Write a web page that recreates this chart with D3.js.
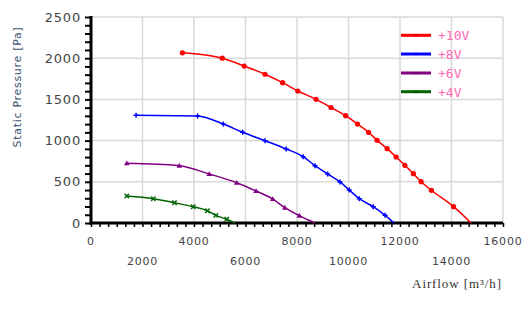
<!DOCTYPE html>
<html><head><meta charset="utf-8">
<script src="https://cdn.jsdelivr.net/npm/d3@7"></script>
<style>
body{margin:0;background:#fff;}
svg{display:block;}
</style></head>
<body>
<svg id="c" width="526" height="312"></svg>
<script>
const seriesNames = ["+10V","+8V","+6V","+4V"];
const seriesColors = ["#ff0000","#0000ff","#800080","#006400"];
const red10 = [[3550,2065],[5100,2000],[5950,1905],[6760,1805],[7440,1703],[8030,1602],[8740,1501],[9320,1402],[9890,1302],[10350,1201],[10780,1101],[11110,1004],[11500,902],[11850,801],[12190,700],[12520,598],[12820,501],[13220,397],[14080,198],[14760,0]];
const blue8 = [[1750,1307],[4140,1300],[5140,1201],[5890,1101],[6760,999],[7580,898],[8240,805],[8700,696],[9190,595],[9670,498],[10030,400],[10420,295],[10960,198],[11420,93],[11770,0]];
const purple6 = [[1390,724],[3430,696],[4590,595],[5660,489],[6410,388],[7060,291],[7530,186],[8090,89],[8700,0]];
const green4 = [[1390,328],[2420,295],[3240,246],[3970,198],[4520,149],[4850,93],[5270,45],[5590,0]];
const seriesData = [red10, blue8, purple6, green4];
const markerTypes = ["circle","plus","triangle","cross"];
const xTicks = [0,2000,4000,6000,8000,10000,12000,14000,16000];
const yTicks = [0,500,1000,1500,2000,2500];
const xTitle = "Airflow [m\u00b3/h]";
const yTitle = "Static Pressure [Pa]";

const svg = d3.select("#c");
const x = d3.scaleLinear().domain([0,16000]).range([91,503]);
const y = d3.scaleLinear().domain([0,2500]).range([223,17]);

// grid
const g = svg.append("g");
g.selectAll(".vg").data(xTicks.slice(1)).join("line")
  .attr("x1",d=>x(d)).attr("x2",d=>x(d)).attr("y1",y(0)).attr("y2",y(2500))
  .attr("stroke","#d9d9d9").attr("stroke-width",1.5);
g.selectAll(".hg").data(yTicks.slice(1)).join("line")
  .attr("x1",x(0)).attr("x2",x(16000)).attr("y1",d=>y(d)).attr("y2",d=>y(d))
  .attr("stroke","#d9d9d9").attr("stroke-width",1.5);

// minor ticks
const yMinor = d3.range(0,2501,100);
const xMinor = d3.range(0,16001,2000/6);
const yAx = svg.append("g").attr("transform",`translate(${x(0)},0)`)
  .call(d3.axisLeft(y).tickValues(yMinor).tickSize(6).tickFormat(""));
yAx.select(".domain").remove();
yAx.selectAll("line").attr("stroke","#000").attr("stroke-width",2);
const xAx = svg.append("g").attr("transform",`translate(0,${y(0)})`)
  .call(d3.axisBottom(x).tickValues(xMinor).tickSize(4).tickFormat(""));
xAx.select(".domain").remove();
xAx.selectAll("line").attr("stroke","#000").attr("stroke-width",1.5);

// axis lines
svg.append("line").attr("x1",x(0)).attr("x2",x(0)).attr("y1",y(2500)-1).attr("y2",y(0)+1.5)
  .attr("stroke","#000").attr("stroke-width",3);
svg.append("line").attr("x1",x(0)-1.5).attr("x2",x(16000)).attr("y1",y(0)).attr("y2",y(0))
  .attr("stroke","#000").attr("stroke-width",3);

// tick labels
svg.selectAll(".yl").data(yTicks).join("text")
  .attr("x",81).attr("y",d=>y(d)+4.5).attr("text-anchor","end")
  .attr("font-family","DejaVu Sans").attr("font-size",13).attr("letter-spacing",0.8)
  .attr("fill","#444").text(d=>d);
svg.selectAll(".xl").data(xTicks).join("text")
  .attr("x",d=>x(d)).attr("y",(d,i)=> i%2===0 ? 245 : 265).attr("text-anchor","middle")
  .attr("font-family","DejaVu Sans").attr("font-size",11).attr("letter-spacing",0.8)
  .attr("fill","#444").text(d=>d);

// titles
svg.append("text").attr("x",457).attr("y",288).attr("text-anchor","middle")
  .attr("font-family","Liberation Serif").attr("font-size",13).attr("letter-spacing",0.9)
  .attr("fill","#333").text(xTitle);
svg.append("text").attr("transform","translate(21,87) rotate(-90)").attr("text-anchor","middle")
  .attr("font-family","DejaVu Sans").attr("font-size",11).attr("letter-spacing",0.7)
  .attr("fill","#3a5070").text(yTitle);

// lines
const line = d3.line().x(d=>x(d[0])).y(d=>y(d[1])).curve(d3.curveMonotoneX);
seriesData.forEach((data,i)=>{
  const c = seriesColors[i];
  svg.append("path").attr("d",line(data)).attr("fill","none").attr("stroke",c).attr("stroke-width",1.5);
  const pts = data.filter(d=>d[1]>0);
  const mg = svg.append("g");
  pts.forEach(d=>{
    const px = x(d[0]), py = y(d[1]);
    const t = markerTypes[i];
    if(t==="circle") mg.append("circle").attr("cx",px).attr("cy",py).attr("r",2.6).attr("fill",c);
    else if(t==="plus") mg.append("path").attr("d",`M${px-2.5},${py}H${px+2.5}M${px},${py-2.5}V${py+2.5}`).attr("stroke",c).attr("stroke-width",1.5);
    else if(t==="triangle") mg.append("path").attr("d",`M${px},${py-2.8}L${px+2.8},${py+2}L${px-2.8},${py+2}Z`).attr("fill",c);
    else mg.append("path").attr("d",`M${px-2.2},${py-2.2}L${px+2.2},${py+2.2}M${px-2.2},${py+2.2}L${px+2.2},${py-2.2}`).attr("stroke",c).attr("stroke-width",1.4);
  });
});

// legend
const legY = [35.3,54,73,91.7];
seriesNames.forEach((n,i)=>{
  svg.append("line").attr("x1",401).attr("x2",431).attr("y1",legY[i]).attr("y2",legY[i])
    .attr("stroke",seriesColors[i]).attr("stroke-width",3);
  svg.append("circle").attr("cx",416).attr("cy",legY[i]).attr("r",1.3)
    .attr("fill",d3.color(seriesColors[i]).darker(0.6));
  svg.append("text").attr("x",438).attr("y",legY[i]+5).attr("font-family","DejaVu Sans Mono")
    .attr("font-size",13).attr("fill","#ff69b4").text(n);
});
</script>
</body></html>
